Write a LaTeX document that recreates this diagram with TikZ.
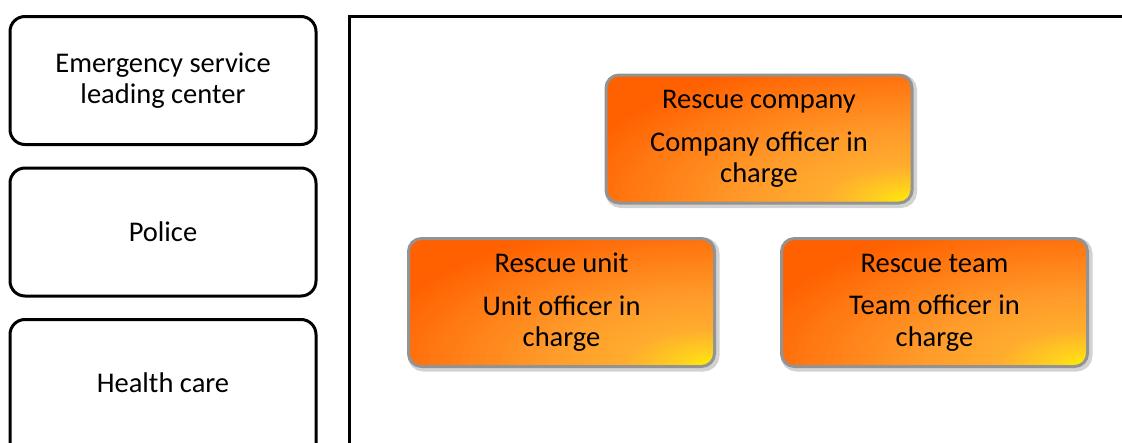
\documentclass[tikz,border=0pt]{standalone}
\usepackage{fontspec}
\setmainfont{Carlito}
\definecolor{deeporange}{HTML}{FF6000}
\definecolor{midorange}{HTML}{FF7C14}
\definecolor{lightorange}{HTML}{FF9A2A}
\definecolor{paleorange}{HTML}{FFAC2E}
\definecolor{goldyel}{HTML}{FFD01E}
\definecolor{brightyel}{HTML}{FFF200}
\newcommand{\glowseg}[4]{%
  \foreach \k in {0,...,12}{%
    \pgfmathsetmacro{\rr}{#2-(#2-#1)*\k/12}%
    \pgfmathtruncatemacro{\qq}{100*(\rr-#1)/(#2-#1)}%
    \fill[#4!\qq!#3] (path picture bounding box.south east)
      ellipse[x radius=\rr*6.16pt, y radius=\rr*2.6pt];}}
\tikzset{
  whitebox/.style={draw=black, line width=3pt, rounded corners=15pt, fill=white,
    minimum width=306pt, minimum height=128pt, align=center, inner sep=0pt},
  orangebox/.style={draw=gray!85, line width=3pt, rounded corners=13pt, fill=deeporange,
    minimum width=306pt, minimum height=128pt, align=center, inner sep=0pt,
    path picture={%
      \glowseg{44}{58}{midorange}{deeporange}%
      \glowseg{28}{44}{lightorange}{midorange}%
      \glowseg{15}{28}{paleorange}{lightorange}%
      \glowseg{6}{15}{goldyel}{paleorange}%
      \glowseg{0}{6}{brightyel}{goldyel}},
    preaction={draw=gray!35, line width=6pt, transform canvas={shift={(2pt,-2pt)}}}},
  frameline/.style={draw=black, line width=3pt}
}
\begin{document}
\begin{tikzpicture}[x=1pt,y=-1pt]
\useasboundingbox (0,0) rectangle (1122,442);
\clip (0,0) rectangle (1122,442);
\fontsize{28.5}{31.5}\selectfont
\node[whitebox] (esc) at (163,80.5) {Emergency service\\leading center};
\node[whitebox] (police) at (163,232) {Police};
\node[whitebox, minimum height=140pt, anchor=north] (health) at (163,318) {};
\node (healthtxt) at (163,383) {Health care};
\coordinate (ftl) at (349,16);
\coordinate (ftr) at (1130,16);
\coordinate (fbl) at (349,450);
\draw[frameline] (ftr) -- (ftl) -- (fbl);
\node[orangebox] (company) at (759,139) {Rescue company\\[11pt]Company officer in\\charge};
\node[orangebox] (unit) at (561.5,302.5) {Rescue unit\\[11pt]Unit officer in\\charge};
\node[orangebox] (team) at (934.5,302.5) {Rescue team\\[11pt]Team officer in\\charge};
\end{tikzpicture}
\end{document}
